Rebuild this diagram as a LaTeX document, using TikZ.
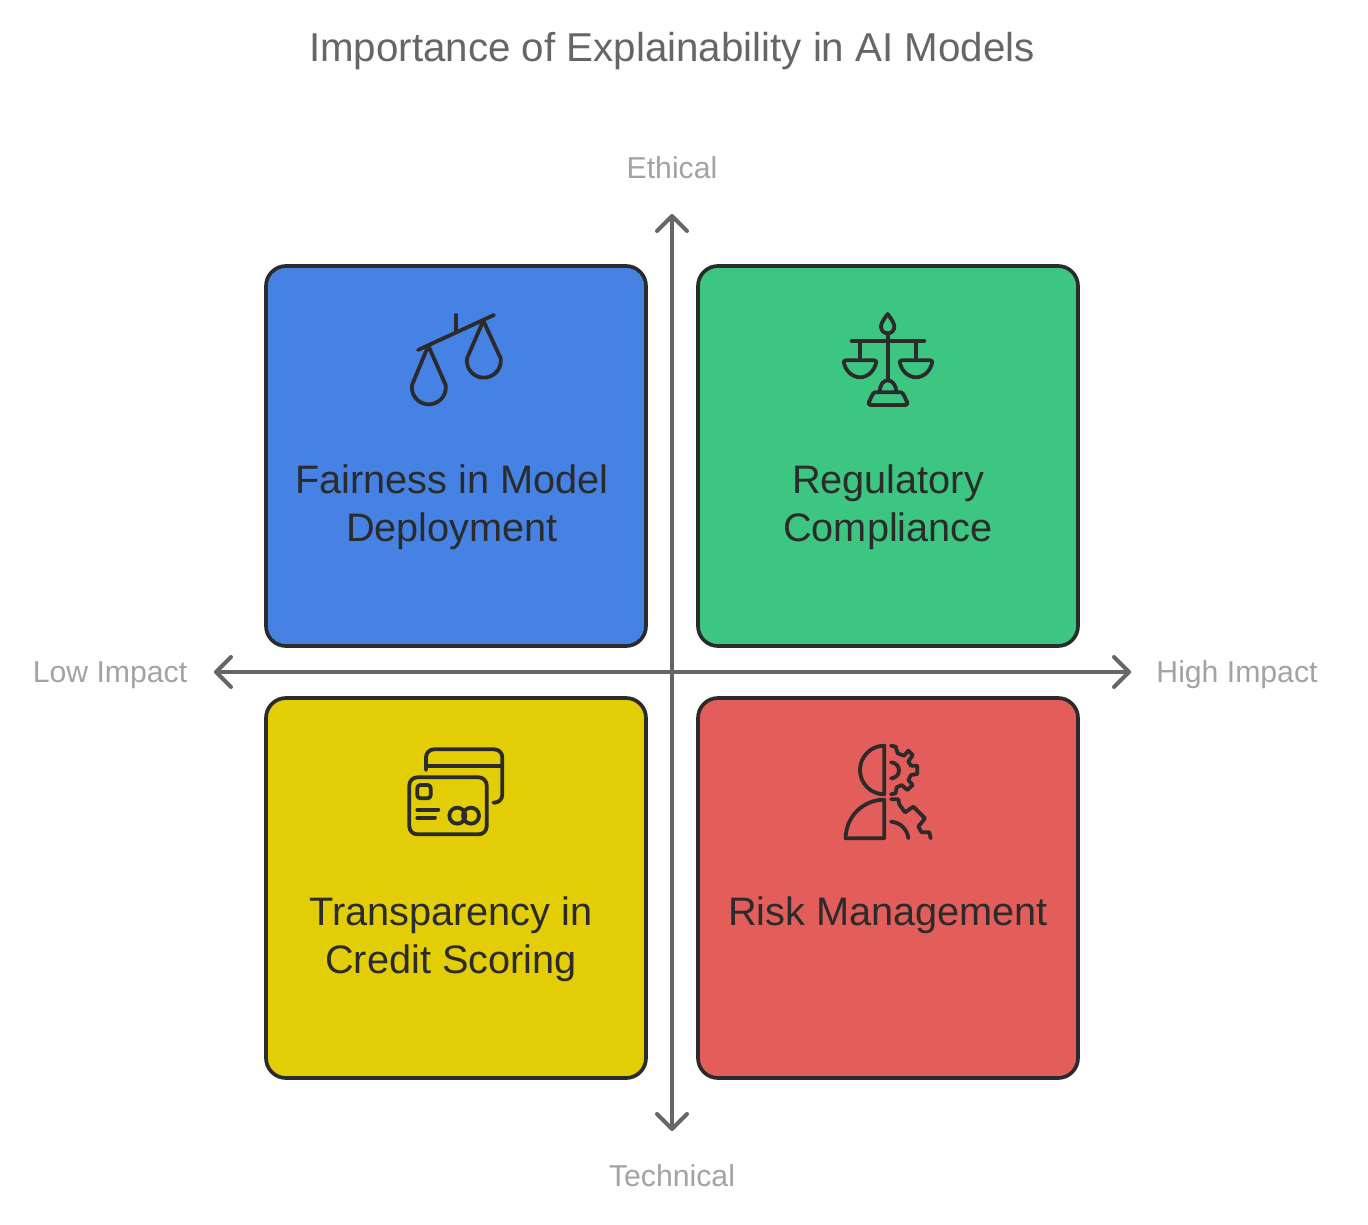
\documentclass[tikz,border=0pt]{standalone}
\usepackage{fontspec}
\setmainfont{Liberation Sans}
\usetikzlibrary{arrows.meta}
\definecolor{cblue}{HTML}{4681E4}
\definecolor{cgreen}{HTML}{3DC582}
\definecolor{cyellow}{HTML}{E2CD06}
\definecolor{cred}{HTML}{E35D5A}
\definecolor{cdark}{HTML}{2B2B2B}
\definecolor{caxis}{HTML}{666666}
\definecolor{clabel}{HTML}{A3A3A3}
\tikzset{
 quad/.style={draw=cdark,line width=3.7pt,rounded corners=20pt,minimum width=380pt,minimum height=380pt,inner sep=0pt,anchor=center},
 axisline/.style={draw=caxis,line width=4pt,{Straight Barb[length=15pt,width=30pt,line width=4pt,round]}-{Straight Barb[length=15pt,width=30pt,line width=4pt,round]}},
 quadtext/.style={text=cdark,font=\fontsize{39.7}{48}\selectfont,align=center,anchor=base,inner sep=0pt},
 axlabel/.style={text=clabel,font=\fontsize{30.2}{36}\selectfont,anchor=base,inner sep=0pt},
 titletext/.style={text=caxis,font=\fontsize{40.3}{46}\selectfont,anchor=base,inner sep=0pt},
 icon/.style={draw=cdark,line width=3.8pt,line cap=round,line join=round,x=0.3333pt,y=-0.3333pt},
}
\begin{document}
\begin{tikzpicture}[x=1pt,y=-1pt]
\useasboundingbox (0,0) rectangle (1368,1224);
\fill[white] (0,0) rectangle (1368,1224);
\node[titletext] (title) at (672,61) {Importance of Explainability in AI Models};
\node[quad,fill=cblue] (q1) at (456,456) {};
\node[quad,fill=cgreen] (q2) at (888,456) {};
\node[quad,fill=cyellow] (q3) at (456,888) {};
\node[quad,fill=cred] (q4) at (888,888) {};
\coordinate (xl) at (214,672);
\coordinate (xr) at (1131,672);
\coordinate (yt) at (672,214);
\coordinate (yb) at (672,1131);
\draw[axisline] (xl) -- (xr);
\draw[axisline] (yb) -- (yt);
\node[axlabel] (lt) at (672,178) {Ethical};
\node[axlabel] (lb) at (672,1186) {Technical};
\node[axlabel] (ll) at (110,682) {Low Impact};
\node[axlabel] (lr) at (1237,682) {High Impact};
\node[quadtext] (t1a) at (452,493) {Fairness in Model};
\node[quadtext] (t1b) at (452,541) {Deployment};
\node[quadtext] (t2a) at (888,493) {Regulatory};
\node[quadtext] (t2b) at (888,541) {Compliance};
\node[quadtext] (t3a) at (451,925) {Transparency in};
\node[quadtext] (t3b) at (451,973) {Credit Scoring};
\node[quadtext] (t4a) at (888,925) {Risk Management};
% icon 1: tilted balance
\begin{scope}[shift={(390,300)},icon]
\draw (84,150) -- (312,45);
\draw (198,45) -- (198,97);
\draw (115,137) -- (66,255) arc[start angle=188,end angle=-8,radius=51] -- cycle;
\draw (280,62) -- (231,175) arc[start angle=188,end angle=-8,radius=51] -- cycle;
\end{scope}
% icon 2: level balance
\begin{scope}[shift={(825,300)},icon]
\draw (188,42) .. controls (176,58) and (168,70) .. (168,80) .. controls (168,93) and (178,100) .. (188,100) .. controls (198,100) and (208,93) .. (208,80) .. controls (208,70) and (200,58) .. (188,42) -- cycle;
\draw (188,100) -- (188,240);
\draw (80,123) -- (298,123);
\draw (105,123) -- (105,180);
\draw (273,123) -- (273,180);
\draw (62,181) -- (148,181) -- (154,184) .. controls (150,215) and (125,232) .. (105,232) .. controls (85,232) and (60,215) .. (56,184) -- cycle;
\draw (230,181) -- (316,181) -- (322,184) .. controls (318,215) and (293,232) .. (273,232) .. controls (253,232) and (228,215) .. (224,184) -- cycle;
\draw (164,276) .. controls (164,255) and (175,241) .. (188,241) .. controls (201,241) and (214,255) .. (214,276);
\draw (150,277) -- (228,277) .. controls (236,277) and (242,300) .. (247,308) .. controls (248,312) and (246,315) .. (240,315) -- (138,315) .. controls (132,315) and (130,312) .. (131,308) .. controls (136,300) and (142,277) .. (150,277) -- cycle;
\end{scope}
% icon 3: cards
\begin{scope}[shift={(395,735)},icon]
\draw[rounded corners=8pt] (43,127) rectangle (275,298);
\draw[rounded corners=3pt] (67,150) rectangle (107,190);
\draw (67,224) -- (130,224);
\draw (67,248) -- (120,248);
\draw (187,242) circle[radius=24];
\draw (228,242) circle[radius=24];
\draw[rounded corners=8pt] (93,105) -- (93,43) -- (322,43) -- (322,203) -- (295,203);
\draw (93,93) -- (322,93);
\end{scope}
% icon 4: head and gears
\begin{scope}[shift={(830,735)},icon]
\draw (163,32) arc[start angle=-90,end angle=-270,radius=73] -- cycle;
\draw (163,195) -- (163,310) -- (47,310) arc[start angle=180,end angle=270,radius=116] -- cycle;
\draw (183,32) -- (197,35) -- (203,55) -- (222,62) -- (235,47) -- (248,60) -- (235,80) -- (243,92) -- (262,92) -- (262,117) -- (243,120) -- (235,135) -- (248,150) -- (232,165) -- (215,150) -- (200,157) -- (197,175) -- (183,178);
\draw (183,82) arc[start angle=-90,end angle=90,radius=24];
\draw (183,193) -- (205,193) -- (208,208) -- (225,232) -- (250,215) -- (285,250) -- (265,275) -- (275,292) -- (298,292) -- (302,310);
\draw (183,260) .. controls (210,262) and (232,282) .. (235,310);
\end{scope}
\end{tikzpicture}
\end{document}
